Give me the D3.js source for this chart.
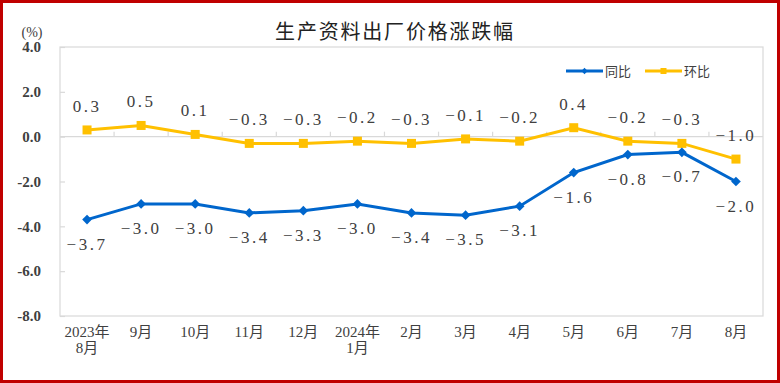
<!DOCTYPE html>
<html><head><meta charset="utf-8">
<script src="https://cdn.jsdelivr.net/npm/d3@7"></script>
<style>
html,body{margin:0;padding:0;background:#fff;}
svg{display:block;}
</style></head>
<body>
<svg id="chart" width="780" height="383"></svg>
<script>
const categories = [["2023年","8月"],["9月"],["10月"],["11月"],["12月"],["2024年","1月"],["2月"],["3月"],["4月"],["5月"],["6月"],["7月"],["8月"]];
const yoy = [-3.7,-3.0,-3.0,-3.4,-3.3,-3.0,-3.4,-3.5,-3.1,-1.6,-0.8,-0.7,-2.0];
const mom = [0.3,0.5,0.1,-0.3,-0.3,-0.2,-0.3,-0.1,-0.2,0.4,-0.2,-0.3,-1.0];
const yTicks = [4,2,0,-2,-4,-6,-8];
const seriesNames = ["同比","环比"];
const title = "生产资料出厂价格涨跌幅";
const unit = "(%)";

const BLUE = "#0066CC", YELLOW = "#FFC000", GRID = "#D9D9D9", TXT = "#404040";
const svg = d3.select("#chart");
const L = 60, R = 763, T = 47, B = 316;
const idx = categories.map((c,i)=>i);
const x = d3.scaleBand().domain(idx).range([L,R]);
const y = d3.scaleLinear().domain([-8,4]).range([B,T]);
const cx = i => x(i) + x.bandwidth()/2;

// frame
svg.append("rect").attr("x",1.5).attr("y",1.5).attr("width",777).attr("height",380)
  .attr("fill","#fff").attr("stroke","#C00000").attr("stroke-width",3);

// title
svg.append("text").attr("x",395).attr("y",39).attr("text-anchor","middle")
  .attr("font-family","'Noto Sans CJK SC',sans-serif").attr("font-size",20)
  .attr("letter-spacing","1.8px").attr("fill","#222").text(title);

// plot border
svg.append("rect").attr("x",L).attr("y",T).attr("width",R-L).attr("height",B-T)
  .attr("fill","none").attr("stroke",GRID).attr("stroke-width",1.2);

// y axis ticks and labels
const yAxis = d3.axisLeft(y).tickValues(yTicks).tickSize(-5).tickPadding(19)
  .tickFormat(d=>d3.format(".1f")(d).replace("−","-"));
const gy = svg.append("g").attr("transform",`translate(${L},0)`).call(yAxis);
gy.select(".domain").remove();
gy.selectAll(".tick line").attr("stroke",GRID).attr("stroke-width",1.2);
gy.selectAll(".tick text").attr("font-family","'Liberation Serif',serif").attr("font-size",15)
  .attr("font-weight","bold").attr("fill",TXT);

svg.append("text").attr("x",32).attr("y",37).attr("text-anchor","middle")
  .attr("font-family","'Liberation Serif',serif").attr("font-size",14).attr("fill",TXT).text(unit);

// zero line
svg.append("line").attr("x1",L).attr("x2",R).attr("y1",y(0)).attr("y2",y(0))
  .attr("stroke",GRID).attr("stroke-width",1.2);
// category ticks on zero line
svg.append("g").selectAll("line").data(idx.slice(1)).join("line")
  .attr("x1",i=>x(i)).attr("x2",i=>x(i)).attr("y1",y(0)).attr("y2",y(0)-5)
  .attr("stroke",GRID).attr("stroke-width",1.2);

// x labels
const xl = svg.append("g").selectAll("text").data(idx).join("text")
  .attr("x",cx).attr("y",337).attr("text-anchor","middle")
  .attr("font-family","'Liberation Serif','Noto Sans CJK SC',serif").attr("font-size",15).attr("fill",TXT);
xl.each(function(i){
  const t = d3.select(this);
  categories[i].forEach((s,k)=>{
    t.append("tspan").attr("x",cx(i)).attr("dy",k===0?0:16).text(s);
  });
});

// lines
const line = d3.line().x((d,i)=>cx(i)).y(d=>y(d));
svg.append("path").datum(mom).attr("d",line).attr("fill","none").attr("stroke",YELLOW).attr("stroke-width",3);
svg.append("path").datum(yoy).attr("d",line).attr("fill","none").attr("stroke",BLUE).attr("stroke-width",3);

// markers
svg.append("g").selectAll("rect").data(mom).join("rect")
  .attr("x",(d,i)=>cx(i)-4.5).attr("y",d=>y(d)-4.5).attr("width",9).attr("height",9).attr("fill",YELLOW);
const diamond = d3.symbol().type(d3.symbolDiamond2).size(60);
svg.append("g").selectAll("path").data(yoy).join("path")
  .attr("transform",(d,i)=>`translate(${cx(i)},${y(d)})`).attr("d",diamond).attr("fill",BLUE);

// data labels
const fmt = d => d3.format(".1f")(d);
svg.append("g").selectAll("text").data(mom).join("text")
  .attr("x",(d,i)=>cx(i)).attr("y",d=>y(d)-24+6).attr("text-anchor","middle")
  .attr("font-family","'Liberation Serif',serif").attr("font-size",17).attr("letter-spacing","2.5px")
  .attr("fill",TXT).text(fmt);
svg.append("g").selectAll("text").data(yoy).join("text")
  .attr("x",(d,i)=>cx(i)).attr("y",d=>y(d)+24+6).attr("text-anchor","middle")
  .attr("font-family","'Liberation Serif',serif").attr("font-size",17).attr("letter-spacing","2.5px")
  .attr("fill",TXT).text(fmt);

// legend
const leg = [{name:seriesNames[0],c:BLUE,x:566,m:"d"},{name:seriesNames[1],c:YELLOW,x:645,m:"s"}];
const lg = svg.append("g");
leg.forEach(l=>{
  lg.append("line").attr("x1",l.x).attr("x2",l.x+37).attr("y1",71).attr("y2",71).attr("stroke",l.c).attr("stroke-width",3);
  if(l.m==="s") lg.append("rect").attr("x",l.x+18.5-3).attr("y",68).attr("width",6).attr("height",6).attr("fill",l.c);
  else lg.append("path").attr("transform",`translate(${l.x+18.5},71)`).attr("d",d3.symbol().type(d3.symbolDiamond2).size(25)).attr("fill",l.c);
  lg.append("text").attr("x",l.x+39).attr("y",76).attr("font-family","'Noto Sans CJK SC',sans-serif")
    .attr("font-size",13).attr("fill",TXT).text(l.name);
});
</script>
</body></html>
